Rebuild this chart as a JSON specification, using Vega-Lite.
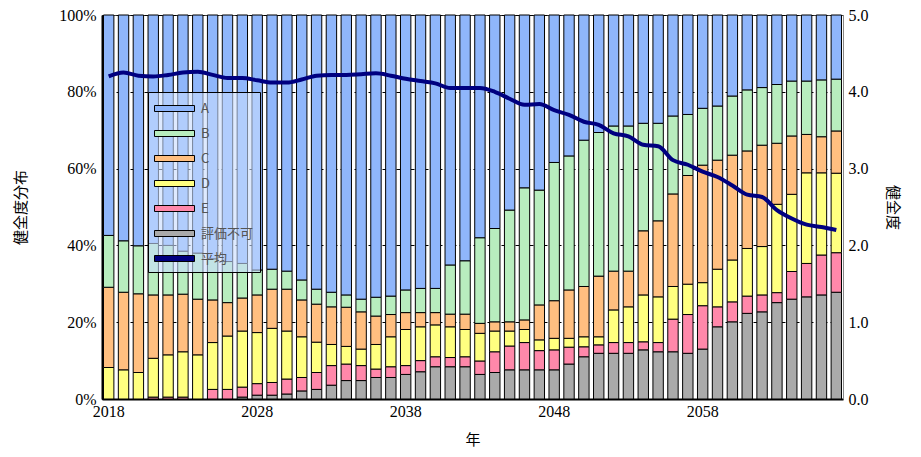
{
  "$schema": "https://vega.github.io/schema/vega-lite/v6.json",
  "width": 741,
  "height": 384,
  "autosize": {"type": "none"},
  "padding": {"left": 102, "top": 15, "right": 78, "bottom": 58},
  "background": "white",
  "config": {
    "view": {"stroke": "#444", "strokeWidth": 1},
    "axis": {"labelFont": "Liberation Serif", "labelFontSize": 16, "labelColor": "#000", "titleFont": "Noto Sans CJK JP", "titleFontSize": 15, "titleFontWeight": "normal", "titleColor": "#000"}
  },
  "data": {"values": [
    {"year": 2018, "A": 57.4, "B": 13.5, "C": 20.9, "D": 8.2, "E": 0, "評価不可": 0, "avg": 4.20},
    {"year": 2019, "A": 58.8, "B": 13.4, "C": 20.2, "D": 7.6, "E": 0, "評価不可": 0, "avg": 4.25},
    {"year": 2020, "A": 60.1, "B": 12.5, "C": 20.5, "D": 6.9, "E": 0, "評価不可": 0, "avg": 4.21},
    {"year": 2021, "A": 59.5, "B": 13.4, "C": 16.5, "D": 10.1, "E": 0.5, "評価不可": 0, "avg": 4.20},
    {"year": 2022, "A": 60.0, "B": 12.9, "C": 15.6, "D": 11.0, "E": 0.5, "評価不可": 0, "avg": 4.22},
    {"year": 2023, "A": 61.5, "B": 11.2, "C": 15.0, "D": 11.8, "E": 0.5, "評価不可": 0, "avg": 4.25},
    {"year": 2024, "A": 62.0, "B": 12.0, "C": 14.5, "D": 11.5, "E": 0, "評価不可": 0, "avg": 4.26},
    {"year": 2025, "A": 63.5, "B": 10.7, "C": 11.1, "D": 12.2, "E": 2.5, "評価不可": 0, "avg": 4.22},
    {"year": 2026, "A": 64.2, "B": 10.7, "C": 8.7, "D": 13.9, "E": 2.5, "評価不可": 0, "avg": 4.18},
    {"year": 2027, "A": 64.7, "B": 9.0, "C": 8.6, "D": 14.6, "E": 2.6, "評価不可": 0.5, "avg": 4.18},
    {"year": 2028, "A": 66.4, "B": 6.5, "C": 9.8, "D": 13.3, "E": 3.0, "評価不可": 1.0, "avg": 4.15},
    {"year": 2029, "A": 66.2, "B": 5.2, "C": 10.2, "D": 14.1, "E": 3.3, "評価不可": 1.0, "avg": 4.12},
    {"year": 2030, "A": 66.7, "B": 4.7, "C": 10.9, "D": 12.5, "E": 3.9, "評価不可": 1.3, "avg": 4.12},
    {"year": 2031, "A": 69.0, "B": 5.2, "C": 9.6, "D": 10.6, "E": 3.5, "評価不可": 2.1, "avg": 4.16},
    {"year": 2032, "A": 71.4, "B": 3.9, "C": 9.9, "D": 7.9, "E": 4.4, "評価不可": 2.5, "avg": 4.21},
    {"year": 2033, "A": 72.2, "B": 3.8, "C": 9.8, "D": 5.5, "E": 5.1, "評価不可": 3.6, "avg": 4.22},
    {"year": 2034, "A": 72.9, "B": 3.2, "C": 10.2, "D": 4.6, "E": 4.3, "評価不可": 4.8, "avg": 4.22},
    {"year": 2035, "A": 74.0, "B": 3.3, "C": 9.7, "D": 4.3, "E": 3.9, "評価不可": 4.8, "avg": 4.23},
    {"year": 2036, "A": 73.5, "B": 4.9, "C": 7.4, "D": 6.4, "E": 2.2, "評価不可": 5.6, "avg": 4.24},
    {"year": 2037, "A": 73.2, "B": 4.8, "C": 5.8, "D": 7.8, "E": 2.8, "評価不可": 5.6, "avg": 4.21},
    {"year": 2038, "A": 71.6, "B": 5.9, "C": 4.4, "D": 9.4, "E": 2.3, "評価不可": 6.4, "avg": 4.17},
    {"year": 2039, "A": 71.2, "B": 6.3, "C": 3.7, "D": 8.8, "E": 2.9, "評価不可": 7.1, "avg": 4.14},
    {"year": 2040, "A": 71.2, "B": 6.3, "C": 3.2, "D": 8.3, "E": 2.6, "評価不可": 8.4, "avg": 4.11},
    {"year": 2041, "A": 65.1, "B": 12.8, "C": 3.3, "D": 8.0, "E": 2.4, "評価不可": 8.4, "avg": 4.05},
    {"year": 2042, "A": 64.0, "B": 13.9, "C": 4.0, "D": 7.1, "E": 2.6, "評価不可": 8.4, "avg": 4.05},
    {"year": 2043, "A": 58.0, "B": 22.3, "C": 2.6, "D": 7.2, "E": 3.5, "評価不可": 6.4, "avg": 4.05},
    {"year": 2044, "A": 55.6, "B": 24.3, "C": 2.4, "D": 5.4, "E": 5.4, "評価不可": 6.9, "avg": 4.00},
    {"year": 2045, "A": 50.8, "B": 29.1, "C": 2.4, "D": 3.9, "E": 6.2, "評価不可": 7.6, "avg": 3.91},
    {"year": 2046, "A": 45.0, "B": 34.4, "C": 2.5, "D": 3.4, "E": 7.1, "評価不可": 7.6, "avg": 3.83},
    {"year": 2047, "A": 45.6, "B": 29.9, "C": 9.1, "D": 2.8, "E": 5.0, "評価不可": 7.6, "avg": 3.84},
    {"year": 2048, "A": 38.4, "B": 36.0, "C": 9.8, "D": 3.0, "E": 5.2, "評価不可": 7.6, "avg": 3.76},
    {"year": 2049, "A": 36.7, "B": 34.9, "C": 12.6, "D": 2.3, "E": 4.4, "評価不可": 9.1, "avg": 3.70},
    {"year": 2050, "A": 32.6, "B": 38.1, "C": 13.1, "D": 2.6, "E": 2.6, "評価不可": 11.0, "avg": 3.61},
    {"year": 2051, "A": 30.6, "B": 37.4, "C": 15.8, "D": 2.1, "E": 2.2, "評価不可": 11.9, "avg": 3.57},
    {"year": 2052, "A": 28.9, "B": 37.8, "C": 10.1, "D": 8.5, "E": 2.8, "評価不可": 11.9, "avg": 3.46},
    {"year": 2053, "A": 28.9, "B": 37.8, "C": 9.3, "D": 9.3, "E": 2.8, "評価不可": 11.9, "avg": 3.42},
    {"year": 2054, "A": 28.2, "B": 28.0, "C": 16.7, "D": 12.2, "E": 2.1, "評価不可": 12.8, "avg": 3.31},
    {"year": 2055, "A": 28.2, "B": 25.4, "C": 19.8, "D": 11.9, "E": 2.4, "評価不可": 12.3, "avg": 3.29},
    {"year": 2056, "A": 26.3, "B": 20.3, "C": 24.1, "D": 8.5, "E": 8.5, "評価不可": 12.3, "avg": 3.11},
    {"year": 2057, "A": 25.9, "B": 15.9, "C": 28.3, "D": 7.9, "E": 10.1, "評価不可": 11.9, "avg": 3.05},
    {"year": 2058, "A": 24.3, "B": 14.8, "C": 30.6, "D": 6.0, "E": 11.3, "評価不可": 13.0, "avg": 2.96},
    {"year": 2059, "A": 23.7, "B": 14.1, "C": 28.4, "D": 9.8, "E": 5.2, "評価不可": 18.8, "avg": 2.89},
    {"year": 2060, "A": 21.1, "B": 15.4, "C": 27.3, "D": 10.9, "E": 5.2, "評価不可": 20.1, "avg": 2.78},
    {"year": 2061, "A": 19.5, "B": 15.9, "C": 25.4, "D": 12.4, "E": 4.5, "評価不可": 22.3, "avg": 2.66},
    {"year": 2062, "A": 18.9, "B": 15.0, "C": 26.4, "D": 12.6, "E": 4.4, "評価不可": 22.7, "avg": 2.63},
    {"year": 2063, "A": 18.1, "B": 15.3, "C": 15.9, "D": 23.0, "E": 2.6, "評価不可": 25.1, "avg": 2.46},
    {"year": 2064, "A": 17.2, "B": 14.3, "C": 15.2, "D": 20.1, "E": 7.2, "評価不可": 26.0, "avg": 2.35},
    {"year": 2065, "A": 17.2, "B": 13.9, "C": 10.0, "D": 23.6, "E": 8.7, "評価不可": 26.6, "avg": 2.27},
    {"year": 2066, "A": 16.9, "B": 14.8, "C": 9.4, "D": 21.4, "E": 10.4, "評価不可": 27.1, "avg": 2.24},
    {"year": 2067, "A": 16.7, "B": 13.5, "C": 11.0, "D": 20.7, "E": 10.3, "評価不可": 27.8, "avg": 2.20}
  ]},
  "layer": [
    {
      "transform": [{"fold": ["評価不可", "E", "D", "C", "B", "A"], "as": ["cat", "v"]}],
      "mark": {"type": "bar", "stroke": "#000", "strokeWidth": 1},
      "encoding": {
        "x": {
          "field": "year", "type": "ordinal",
          "scale": {"paddingInner": 0.3, "paddingOuter": 0.1},
          "axis": {
            "title": "年", "labelAngle": 0, "ticks": false, "labelOverlap": false,
            "labelExpr": "(+datum.value - 2018) % 10 === 0 ? datum.label : ''",
            "labelPadding": 4, "titlePadding": 13,
            "domainColor": "#000", "domainWidth": 2, "grid": false
          }
        },
        "y": {
          "field": "v", "type": "quantitative", "stack": "zero",
          "scale": {"domain": [0, 100], "nice": false},
          "axis": {
            "title": "健全度分布", "values": [0, 20, 40, 60, 80, 100],
            "labelExpr": "datum.value + '%'", "ticks": false, "labelPadding": 6,
            "titlePadding": 30, "grid": true, "gridDash": [4, 3], "gridColor": "#000", "gridWidth": 1,
            "domainColor": "#000", "domainWidth": 2
          }
        },
        "color": {
          "field": "cat", "type": "nominal",
          "scale": {
            "domain": ["A", "B", "C", "D", "E", "評価不可", "平均"],
            "range": ["#8fb6fb", "#b8edbe", "#ffbf80", "#ffff80", "#ff88aa", "#aaaaaa", "#000080"]
          },
          "legend": {
            "orient": "none", "legendX": 46, "legendY": 77, "title": null,
            "symbolType": "M-1,-0.3H3V0.3H-1Z", "symbolSize": 400,
            "symbolStrokeColor": "#000", "symbolStrokeWidth": 1,
            "labelOffset": 26, "labelFontSize": 13, "labelColor": "#555", "labelFont": "Noto Sans CJK JP",
            "rowPadding": 7, "padding": 6, "strokeColor": "#000", "fillColor": "rgba(200,220,255,0.6)"
          }
        },
        "order": {"value": null}
      }
    },
    {
      "mark": {"type": "line", "interpolate": "monotone", "strokeWidth": 4, "color": "#000080"},
      "encoding": {
        "x": {"field": "year", "type": "ordinal"},
        "y": {
          "field": "avg", "type": "quantitative",
          "scale": {"domain": [0, 5], "nice": false},
          "axis": {
            "orient": "right", "title": "健全度", "values": [0, 1, 2, 3, 4, 5], "format": ".1f",
            "ticks": false, "grid": false, "labelPadding": 5, "titlePadding": 16,
            "domainColor": "#888", "domainWidth": 1
          }
        }
      }
    }
  ],
  "resolve": {"scale": {"y": "independent"}}
}
